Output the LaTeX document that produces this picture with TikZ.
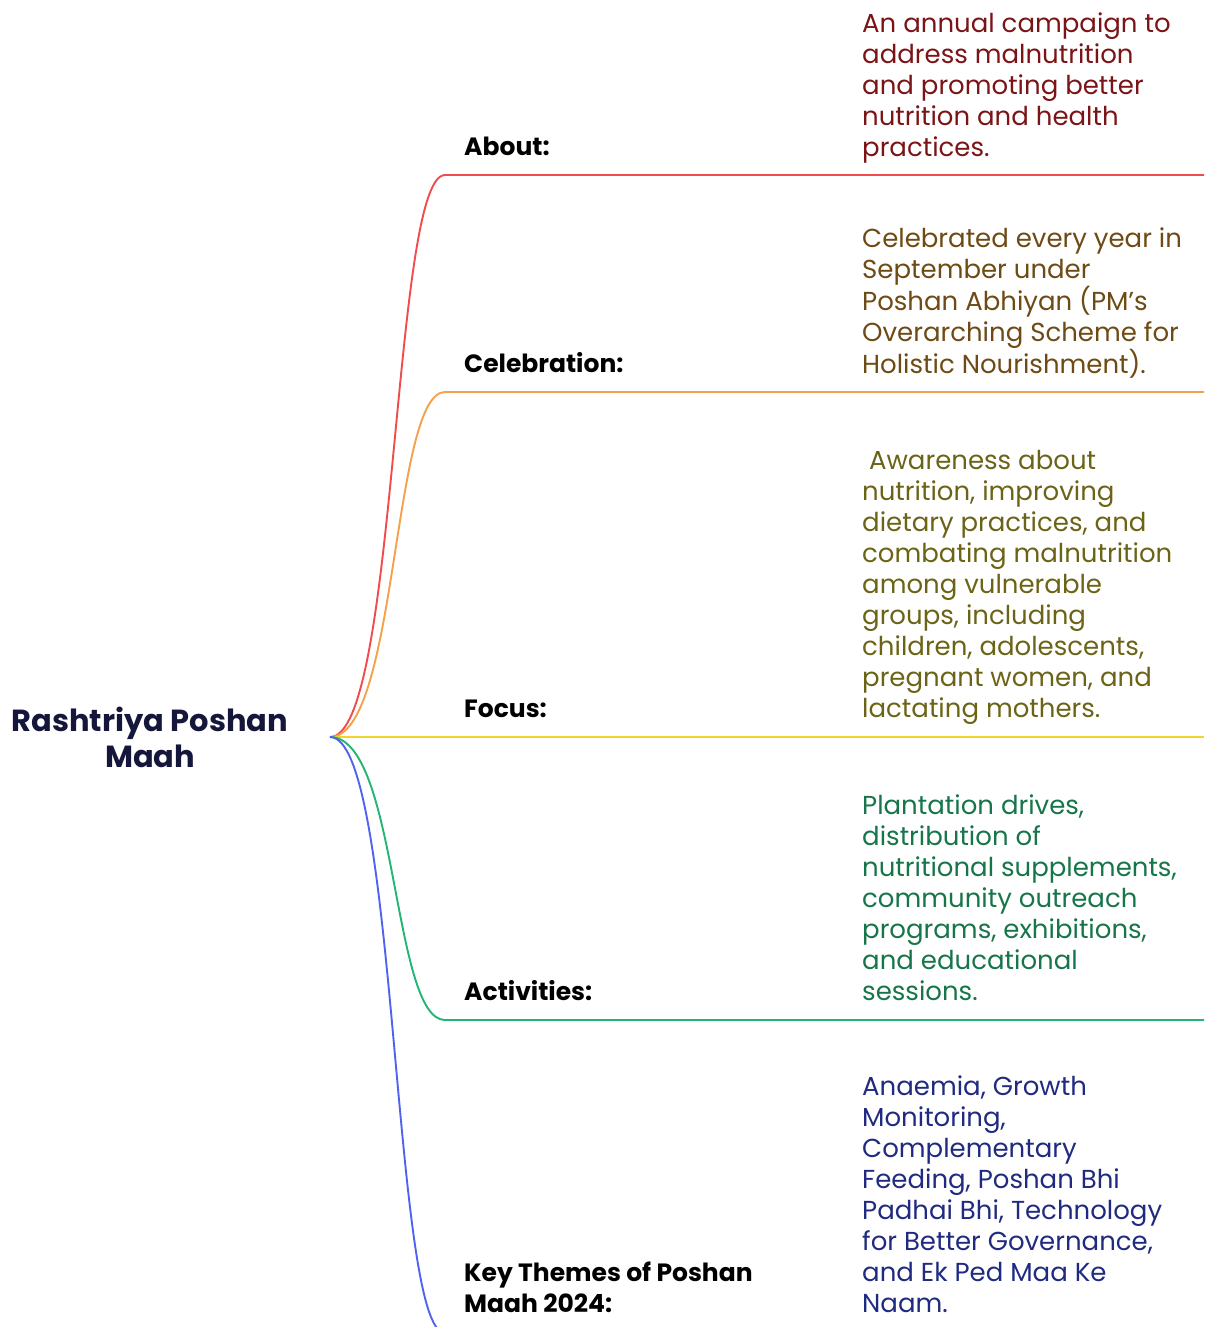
\documentclass[tikz,border=0pt]{standalone}
\usepackage{fontspec}
\setmainfont{Poppins}
\usepackage{xcolor}
\usetikzlibrary{positioning}

\definecolor{redline}{HTML}{F24B4B}
\definecolor{redtext}{HTML}{7B1416}
\definecolor{orangeline}{HTML}{F5A04A}
\definecolor{orangetext}{HTML}{6E4A14}
\definecolor{yellowline}{HTML}{F2D52A}
\definecolor{yellowtext}{HTML}{6B6416}
\definecolor{greenline}{HTML}{22B573}
\definecolor{greentext}{HTML}{17754A}
\definecolor{blueline}{HTML}{4F63F0}
\definecolor{bluetext}{HTML}{1F2A80}
\definecolor{roottext}{HTML}{14163A}

\begin{document}
\begin{tikzpicture}[x=1pt, y=-1pt,
  rootbox/.style={align=center, inner sep=0pt, text=roottext,
    font=\fontsize{30.5}{36}\selectfont\bfseries},
  head/.style={anchor=south west, align=left, inner sep=0pt,
    font=\fontsize{25}{31}\selectfont\bfseries},
  desc/.style={anchor=south west, align=left, inner sep=0pt,
    font=\fontsize{26}{31}\selectfont},
  branch/.style={line width=1.9pt}]

\useasboundingbox (0,0) rectangle (1204,1327);

%root topic
\node[rootbox] (root) at (150,737) {Rashtriya Poshan\\Maah};
\coordinate (hub) at (330,737);

%about
\coordinate (aboutC) at (445,175);
\coordinate (aboutE) at (1204,175);
\node[head] (about) at (464,165) {About:\strut};
\node[desc, text=redtext] (aboutText) at (862,166)
  {An annual campaign to\\address malnutrition\\and promoting better\\nutrition and health\\practices.\strut};
\draw[branch, redline] (hub) .. controls (398,737) and (392,175) .. (aboutC) -- (aboutE);

%celebration
\coordinate (celebC) at (445,392);
\coordinate (celebE) at (1204,392);
\node[head] (celeb) at (464,382) {Celebration:\strut};
\node[desc, text=orangetext] (celebText) at (862,383)
  {Celebrated every year in\\September under\\Poshan Abhiyan (PM’s\\Overarching Scheme for\\Holistic Nourishment).\strut};
\draw[branch, orangeline] (hub) .. controls (398,737) and (392,392) .. (celebC) -- (celebE);

%focus
\coordinate (focusE) at (1204,737);
\node[head] (focus) at (464,727) {Focus:\strut};
\node[desc, text=yellowtext] (focusText) at (862,727)
  {\ Awareness about\\nutrition, improving\\dietary practices, and\\combating malnutrition\\among vulnerable\\groups, including\\children, adolescents,\\pregnant women, and\\lactating mothers.\strut};
\draw[branch, yellowline] (hub) -- (focusE);

%activities
\coordinate (actC) at (445,1020);
\coordinate (actE) at (1204,1020);
\node[head] (act) at (464,1010) {Activities:\strut};
\node[desc, text=greentext] (actText) at (862,1010)
  {Plantation drives,\\distribution of\\nutritional supplements,\\community outreach\\programs, exhibitions,\\and educational\\sessions.\strut};
\draw[branch, greenline] (hub) .. controls (398,737) and (392,1020) .. (actC) -- (actE);

%key themes
\coordinate (themeC) at (445,1333);
\node[head] (theme) at (464,1322) {Key Themes of Poshan\\Maah 2024:\strut};
\node[desc, text=bluetext] (themeText) at (862,1322)
  {Anaemia, Growth\\Monitoring,\\Complementary\\Feeding, Poshan Bhi\\Padhai Bhi, Technology\\for Better Governance,\\and Ek Ped Maa Ke\\Naam.\strut};
\draw[branch, blueline] (hub) .. controls (398,737) and (392,1333) .. (themeC);

\end{tikzpicture}
\end{document}
